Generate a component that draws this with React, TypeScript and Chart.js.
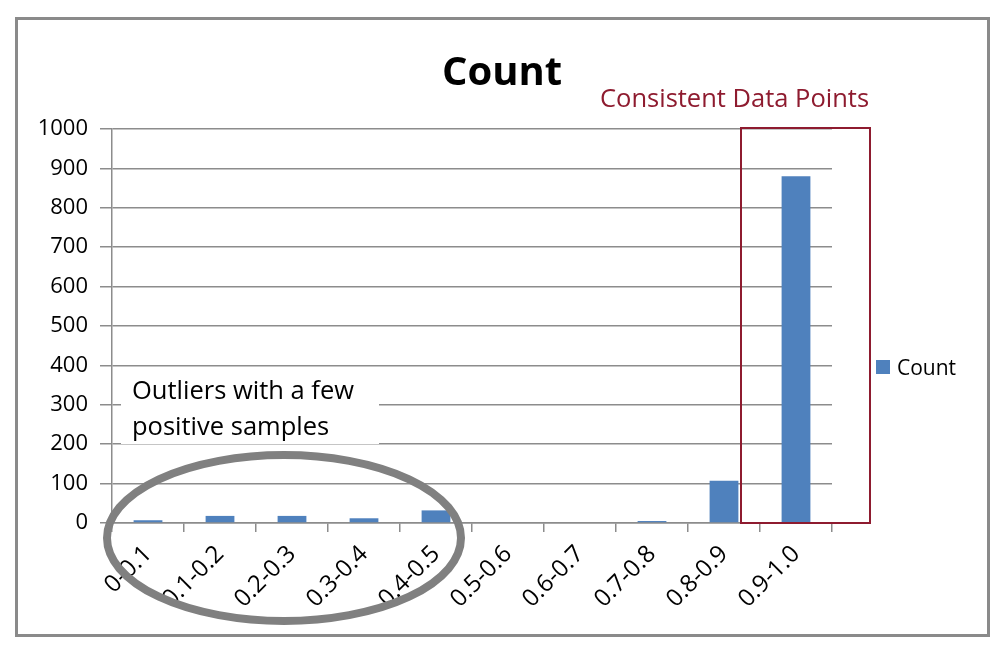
import React, { useEffect, useRef } from "react";
import { Chart, registerables } from "chart.js";

Chart.register(...registerables);

const categories = ["0-0.1", "0.1-0.2", "0.2-0.3", "0.3-0.4", "0.4-0.5", "0.5-0.6", "0.6-0.7", "0.7-0.8", "0.8-0.9", "0.9-1.0"];
const countValues = [7, 18, 18, 12, 32, 0, 0, 5, 107, 880];
const yTicks = [0, 100, 200, 300, 400, 500, 600, 700, 800, 900, 1000];
const seriesName = "Count";
const chartTitle = "Count";
const consistentLabel = "Consistent Data Points";
const outlierLines = ["Outliers with a few", "positive samples"];

const FONT = "'Open Sans', Lato, sans-serif";
const BAR = "#4F81BD";
const GRID = "#8C8C8C";
const RED = "#8E1B2F";

const decorations = {
  id: "decorations",
  afterDraw(chart: any) {
    const ctx = chart.ctx as CanvasRenderingContext2D;
    const xs = chart.scales.x;
    const ys = chart.scales.y;
    ctx.save();
    // outer frame
    ctx.strokeStyle = "#8A8A8A";
    ctx.lineWidth = 3;
    ctx.strokeRect(16.5, 18.5, 972, 617);

    // title
    ctx.fillStyle = "#000";
    ctx.font = `bold 40px ${FONT}`;
    ctx.textAlign = "center";
    ctx.textBaseline = "alphabetic";
    ctx.fillText(chartTitle, 502, 85);

    // consistent data points label + rectangle around last category
    ctx.fillStyle = RED;
    ctx.font = `25.5px ${FONT}`;
    ctx.textAlign = "left";
    ctx.fillText(consistentLabel, 600, 107);
    const left9 = xs.getPixelForValue(9) - 55;
    const right9 = xs.getPixelForValue(9) + 74;
    const top = ys.getPixelForValue(1000) - 1;
    const bottom = ys.getPixelForValue(0);
    ctx.strokeStyle = RED;
    ctx.lineWidth = 2;
    ctx.strokeRect(left9, top, right9 - left9, bottom - top);

    // outlier text box
    ctx.fillStyle = "#fff";
    ctx.fillRect(121, 374, 258, 70);
    ctx.fillStyle = "#000";
    ctx.font = `25.5px ${FONT}`;
    ctx.fillText(outlierLines[0], 132, 399);
    ctx.fillText(outlierLines[1], 132, 435);

    // ellipse
    const c0 = xs.getPixelForValue(0);
    const c4 = xs.getPixelForValue(4);
    ctx.strokeStyle = "#808080";
    ctx.lineWidth = 8;
    ctx.beginPath();
    ctx.ellipse((c0 + c4) / 2 - 8, bottom + 15, 177, 83, 0, 0, Math.PI * 2);
    ctx.stroke();

    // legend
    const ds = chart.data.datasets[0];
    ctx.fillStyle = ds.backgroundColor;
    ctx.fillRect(876, 360, 14, 14);
    ctx.fillStyle = "#000";
    ctx.font = `21px ${FONT}`;
    ctx.textBaseline = "middle";
    ctx.fillText(ds.label, 897, 369);
    ctx.restore();
  },
};

export default function App() {
  const ref = useRef<HTMLCanvasElement>(null);
  useEffect(() => {
    if (!ref.current) return;
    const chart = new Chart(ref.current, {
      type: "bar",
      data: {
        labels: categories,
        datasets: [
          {
            label: seriesName,
            data: countValues,
            backgroundColor: BAR,
            borderWidth: 0,
            barPercentage: 0.4,
            categoryPercentage: 1,
          },
        ],
      },
      options: {
        responsive: false,
        animation: false,
        devicePixelRatio: 1,
        layout: { padding: { left: 0, right: 176, top: 129, bottom: 0 } },
        plugins: { legend: { display: false }, title: { display: false }, tooltip: { enabled: false } },
        scales: {
          x: {
            afterFit: (s: any) => {
              s.height = 133;
            },
            grid: { drawOnChartArea: false, drawTicks: true, tickLength: 9, color: GRID, lineWidth: 1.5, offset: true },
            border: { color: GRID, width: 1.5 },
            ticks: {
              color: "#000",
              font: { family: FONT, size: 24 },
              minRotation: 45,
              maxRotation: 45,
              padding: 8,
              autoSkip: false,
            },
          },
          y: {
            min: 0,
            max: 1000,
            afterFit: (s: any) => {
              s.width = 112;
            },
            afterBuildTicks: (s: any) => {
              s.ticks = yTicks.map((v) => ({ value: v }));
            },
            grid: { color: GRID, lineWidth: 1.5, tickLength: 12 },
            border: { color: GRID, width: 1.5 },
            ticks: {
              color: "#000",
              font: { family: FONT, size: 22 },
              padding: 12,
              callback: (v: any) => String(v),
            },
          },
        },
      },
      plugins: [decorations],
    });
    return () => chart.destroy();
  }, []);
  return (
    <div style={{ position: "absolute", left: 0, top: 0, width: 1008, height: 656, background: "#fff" }}>
      <canvas ref={ref} width={1008} height={656} style={{ width: 1008, height: 656 }} />
    </div>
  );
}
